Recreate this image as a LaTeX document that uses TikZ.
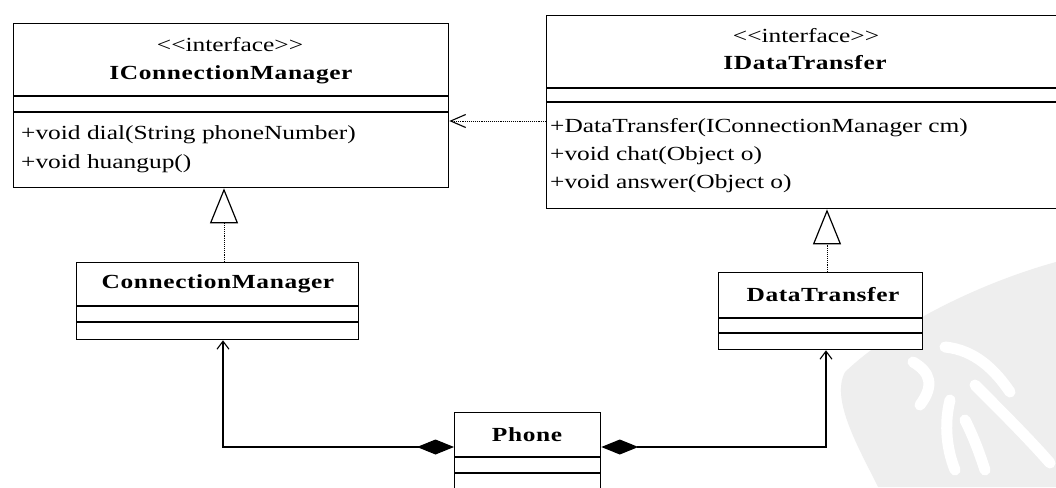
\documentclass[tikz,border=0pt]{standalone}
\usepackage{fontspec}
\setmainfont[FakeStretch=1.27]{Liberation Serif}
\usetikzlibrary{arrows.meta}
\begin{document}
\begin{tikzpicture}[x=1pt,y=-1pt,
  box/.style={draw, fill=white, line width=1.3pt, rectangle, inner sep=0pt, anchor=north west},
  sepline/.style={line width=1.3pt},
  txt/.style={font=\fontsize{20}{23}\selectfont, inner sep=0pt},
  ttl/.style={font=\fontsize{20}{23}\selectfont\bfseries\addfontfeatures{LetterSpace=3}, inner sep=0pt},
  meth/.style={txt, anchor=west},
  wm/.style={draw=white, line width=11pt, line cap=round, line join=round},
  dep/.style={densely dotted, line width=0.9pt, -{Straight Barb[length=15pt,width=13pt,line width=1.1pt]}},
  real/.style={densely dotted, line width=0.9pt, -{Triangle[open,length=35pt,width=28pt,line width=1.2pt]}},
  assoc/.style={line width=1.2pt, {Diamond[length=37pt,width=15pt]}-{Straight Barb[length=8pt,width=12pt,line width=1.1pt]}}]
\clip (0,0) rectangle (1056,487);
\fill[white] (0,0) rectangle (1056,487);
% watermark
\fill[gray!13] (1056,262) .. controls (990,280) and (900,320) .. (845,372)
  .. controls (830,400) and (860,450) .. (878,487) -- (1056,487) -- cycle;
\draw[wm] (945,347) .. controls (975,350) and (995,370) .. (1010,392);
\draw[wm] (913,362) .. controls (930,372) and (935,385) .. (920,405);
\draw[wm] (975,385) .. controls (1000,410) and (1030,440) .. (1050,463);
\draw[wm] (950,400) .. controls (945,420) and (945,445) .. (955,470);
\draw[wm] (965,420) .. controls (975,440) and (980,455) .. (985,470);
% IConnectionManager
\node[box, minimum width=435pt, minimum height=164pt] (icm) at (13,23) {};
\draw[sepline] (icm.west |- 0,96) -- (icm.east |- 0,96);
\draw[sepline] (icm.west |- 0,112) -- (icm.east |- 0,112);
\node[txt] (icmst) at (230,45) {<\kern0pt<interface>\kern0pt>};
\node[ttl] (icmn) at (231,75) {IConnectionManager};
\node[meth] (icm1) at (21,135) {+void dial(String phoneNumber)};
\node[meth] (icm2) at (21,164) {+void huangup()};
% IDataTransfer
\node[box, minimum width=515pt, minimum height=193pt] (idt) at (546,15) {};
\draw[sepline] (idt.west |- 0,88) -- (idt.east |- 0,88);
\draw[sepline] (idt.west |- 0,102) -- (idt.east |- 0,102);
\node[txt] (idtst) at (806,36) {<\kern0pt<interface>\kern0pt>};
\node[ttl] (idtn) at (805,63) {IDataTransfer};
\node[meth] (idt1) at (550,128) {+DataTransfer(IConnectionManager cm)};
\node[meth] (idt2) at (550,156) {+void chat(Object o)};
\node[meth] (idt3) at (550,184) {+void answer(Object o)};
% ConnectionManager
\node[box, minimum width=282pt, minimum height=77pt] (cm) at (76,262) {};
\draw[sepline] (cm.west |- 0,306) -- (cm.east |- 0,306);
\draw[sepline] (cm.west |- 0,322) -- (cm.east |- 0,322);
\node[ttl] (cmn) at (218,284) {ConnectionManager};
% DataTransfer
\node[box, minimum width=204pt, minimum height=77pt] (dt) at (718,272) {};
\draw[sepline] (dt.west |- 0,318) -- (dt.east |- 0,318);
\draw[sepline] (dt.west |- 0,333) -- (dt.east |- 0,333);
\node[ttl] (dtn) at (823,295) {DataTransfer};
% Phone
\node[box, minimum width=146pt, minimum height=120pt] (ph) at (454,412) {};
\draw[sepline] (ph.west |- 0,457) -- (ph.east |- 0,457);
\draw[sepline] (ph.west |- 0,473) -- (ph.east |- 0,473);
\node[ttl] (phn) at (527,435) {Phone};
% connectors
\draw[dep] (idt.west |- 0,121) -- (icm.east |- 0,121);
\draw[real] (cm.north -| 224,0) -- (icm.south -| 224,0);
\draw[real] (dt.north -| 827,0) -- (idt.south -| 827,0);
\draw[assoc] (ph.west |- 0,447) -| (cm.south -| 223,0);
\draw[assoc] (ph.east |- 0,447) -| (dt.south -| 826,0);
\end{tikzpicture}
\end{document}
